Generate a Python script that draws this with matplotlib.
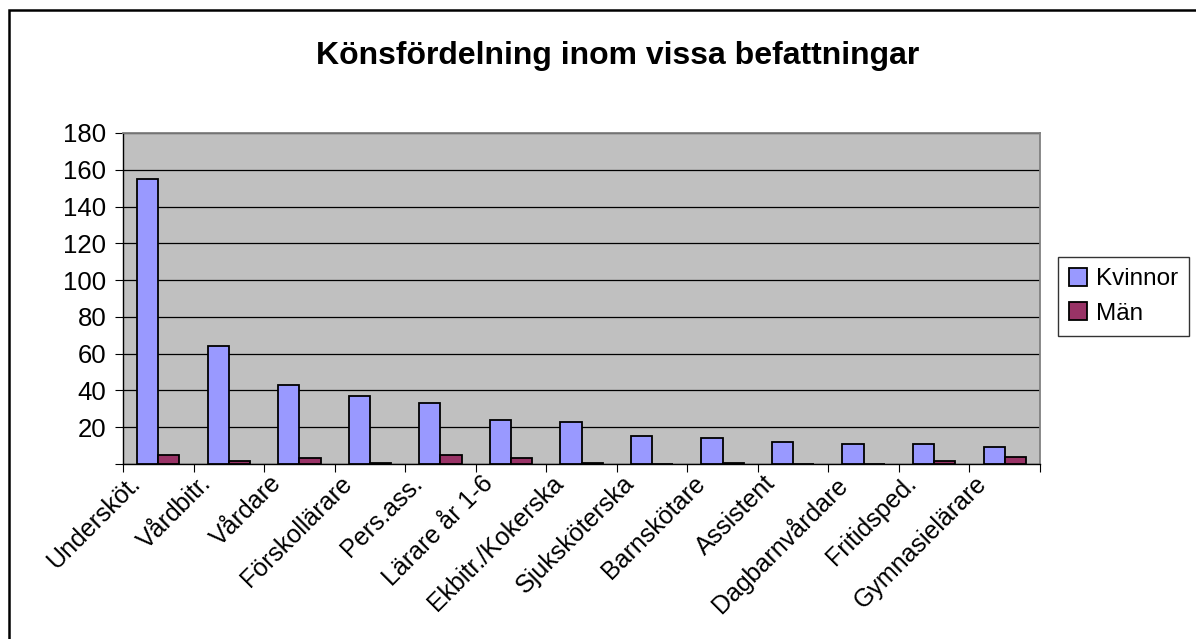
import matplotlib.pyplot as plt
import matplotlib.patches as mpatches
import matplotlib.transforms as mtransforms
import numpy as np

plt.rcParams['font.family'] = ['Liberation Sans', 'DejaVu Sans']

# Könsfördelning inom vissa befattningar
befattningar = ['Undersköt.', 'Vårdbitr.', 'Vårdare', 'Förskollärare', 'Pers.ass.',
                'Lärare år 1-6', 'Ekbitr./Kokerska', 'Sjuksköterska', 'Barnskötare',
                'Assistent', 'Dagbarnvårdare', 'Fritidsped.', 'Gymnasielärare']
kvinnor = [155, 64, 43, 37, 33, 24, 23, 15, 14, 12, 11, 11, 9]
man = [5, 1.5, 3.5, 0.5, 5, 3.5, 0.5, 0, 0.5, 0, 0, 1.5, 4]
y_ticks = [0, 20, 40, 60, 80, 100, 120, 140, 160, 180]

W, H = 1196, 639
fig = plt.figure(figsize=(W / 100, H / 100), dpi=100)
ax = fig.add_axes([123 / W, 1 - 464 / H, (1040 - 123) / W, (464 - 133) / H])
ax.set_facecolor('#C0C0C0')

x = np.arange(len(befattningar))
b = 0.3
ax.bar(x - b / 2, kvinnor, b, color='#9999FF', edgecolor='black', linewidth=1.3,
       label='Kvinnor', zorder=3)
ax.bar(x + b / 2, man, b, color='#993366', edgecolor='black', linewidth=1.3,
       label='Män', zorder=3)

ax.set_xlim(-0.5, len(befattningar) - 0.5)
ax.set_ylim(0, 180)
ax.set_yticks(y_ticks)
ax.set_yticklabels([''] + [str(v) for v in y_ticks[1:]], fontsize=18.5)
ax.yaxis.grid(True, color='black', linewidth=0.9, zorder=1)
ax.set_axisbelow(True)

# tick marks between the categories, labels at centres
ax.set_xticks(np.arange(-0.5, len(befattningar), 1))
ax.set_xticklabels([])
ax.set_xticks(x, minor=True)
ax.set_xticklabels(befattningar, minor=True, rotation=45, ha='right', va='top',
                   rotation_mode='anchor', fontsize=18)
ax.tick_params(axis='x', which='minor', length=0, pad=3)
ax.tick_params(axis='x', which='major', length=6, color='black')
ax.tick_params(axis='y', length=6, pad=6)
shift = mtransforms.ScaledTranslation(-30 / 100, -3 / 100, fig.dpi_scale_trans)
for lbl in ax.get_xticklabels(minor=True):
    lbl.set_transform(lbl.get_transform() + shift)

for s in ['top', 'right']:
    ax.spines[s].set_color('#808080')
    ax.spines[s].set_linewidth(1.3)
for s in ['left', 'bottom']:
    ax.spines[s].set_color('black')
    ax.spines[s].set_linewidth(1)

fig.text(618 / W, 1 - 56 / H, 'Könsfördelning inom vissa befattningar',
         ha='center', va='center', fontsize=23, fontweight='bold')

leg = fig.legend(loc='upper left', bbox_to_anchor=(1058 / W, 1 - 257 / H),
                 fontsize=17.5, frameon=True, fancybox=False, handlelength=0.75,
                 handleheight=0.75, handletextpad=0.35, labelspacing=0.5,
                 borderpad=0.45, borderaxespad=0)
leg.get_frame().set_edgecolor('black')
leg.get_frame().set_linewidth(1)

# outer chart border (only top and left edges inside the image)
fig.patches.append(mpatches.Rectangle((9 / W, -0.1), 1.2, 1.1 - 10 / H,
                                      transform=fig.transFigure, fill=False,
                                      edgecolor='black', linewidth=1.8))

plt.savefig('out.png', dpi=100)
